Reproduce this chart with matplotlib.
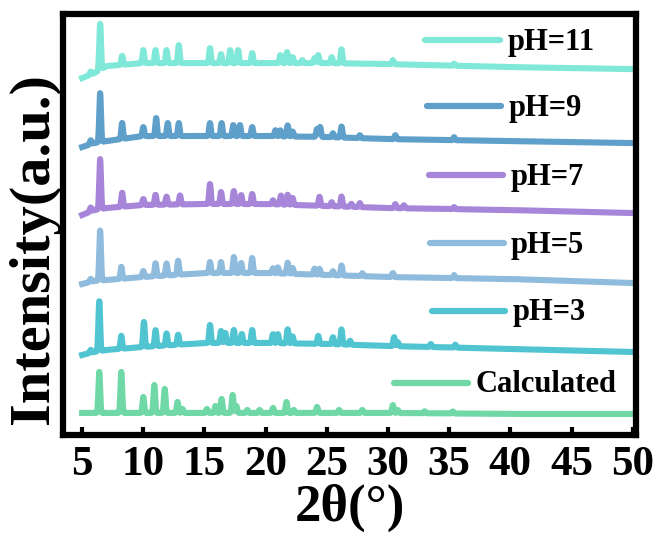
import numpy as np
import matplotlib
matplotlib.use("Agg")
import matplotlib.pyplot as plt

plt.rcParams['font.family'] = ['Liberation Serif', 'DejaVu Serif']
plt.rcParams['font.weight'] = 'bold'

# --- Données (2theta en degrés, hauteurs en unités arbitraires) ---
labels = ["pH=11", "pH=9", "pH=7", "pH=5", "pH=3", "Calculated"]
couleurs = ["#80E8D8", "#5FA0CB", "#A786DA", "#8FBCDD", "#50C5D1", "#6FD8A6"]

# fond continu (points lus) pour chaque diagramme
fond_x = [5, 6, 7, 10, 15, 20, 25, 30, 40, 50]
fond = {
    "pH=11": [357, 362, 369, 372, 372, 372, 372, 371, 368, 366],
    "pH=9": [288, 292, 294, 299, 299, 299, 298, 296, 294, 292],
    "pH=7": [220, 225, 227, 230, 231, 231, 229, 227, 225, 222],
    "pH=5": [151, 154, 155, 158, 162, 162, 160, 158, 156, 152],
    "pH=3": [80, 83, 85, 88, 92, 92, 91, 89, 86, 83],
    "Calculated": [22, 22, 22, 22, 22, 22, 22, 22, 21, 21],
}

# pics : (position, hauteur)
pics = {
    "pH=11": [(5.7, 3), (6.47, 46), (8.27, 9), (10.0, 13), (11.0, 13), (11.9, 13),
              (12.9, 18), (15.45, 15), (16.35, 9), (17.1, 13), (17.75, 13), (18.9, 10),
              (21.2, 8), (21.75, 11), (22.2, 6), (23.0, 3), (24.0, 5), (24.3, 8),
              (25.4, 6), (26.2, 14), (30.4, 4), (35.4, 2)],
    "pH=9": [(5.7, 4), (6.47, 49), (8.27, 16), (10.0, 9), (11.05, 18), (12.0, 13),
             (12.9, 13), (15.45, 13), (16.4, 13), (17.35, 11), (17.9, 11), (18.9, 9),
             (20.8, 6), (21.2, 6), (21.8, 11), (22.2, 5), (24.2, 8), (24.45, 10),
             (25.5, 4), (26.2, 11), (27.7, 3), (30.6, 4), (35.4, 3)],
    "pH=7": [(5.7, 4), (6.47, 50), (8.27, 14), (10.0, 6), (11.0, 10), (11.9, 8),
             (13.0, 9), (15.45, 20), (16.35, 12), (17.4, 13), (18.0, 9), (18.9, 10),
             (20.6, 4), (21.25, 9), (21.8, 10), (22.2, 7), (24.4, 9), (25.4, 4),
             (26.2, 10), (27.0, 3), (27.7, 4), (30.6, 4), (31.3, 3), (35.4, 2)],
    "pH=5": [(5.7, 3), (6.47, 50), (8.2, 12), (10.0, 6), (11.0, 13), (11.9, 12),
             (12.85, 14), (15.45, 11), (16.35, 11), (17.4, 16), (18.0, 10), (18.9, 15),
             (20.6, 5), (21.0, 6), (21.8, 11), (22.2, 6), (24.0, 6), (24.4, 6),
             (25.5, 4), (26.2, 10), (27.9, 3), (30.4, 4), (35.4, 3)],
    "pH=3": [(5.7, 3), (6.4, 50), (8.2, 13), (10.05, 25), (11.0, 16), (11.9, 12),
             (12.85, 10), (15.45, 18), (16.35, 12), (16.7, 10), (17.4, 13), (18.05, 9),
             (18.9, 13), (20.6, 9), (21.0, 9), (21.8, 14), (22.2, 7), (24.3, 8),
             (25.5, 7), (26.2, 15), (26.9, 4), (30.5, 9), (30.8, 4), (33.5, 3), (35.5, 3)],
    "Calculated": [(6.4, 41), (8.2, 41), (10.0, 16), (10.9, 28), (11.75, 24), (12.8, 11),
                   (13.2, 4), (15.2, 4), (15.9, 7), (16.4, 14), (17.3, 18), (17.6, 7),
                   (18.5, 3), (19.5, 3), (20.6, 5), (21.7, 11), (22.3, 3), (24.2, 6),
                   (26.0, 3), (27.9, 3), (30.4, 8), (30.8, 3), (33.0, 2), (35.3, 2)],
}

# position des légendes (fraction des axes) : x début ligne, x fin ligne, y, x texte
legende = {
    "pH=11": (0.632, 0.763, 0.938, 0.777),
    "pH=9": (0.635, 0.764, 0.781, 0.778),
    "pH=7": (0.639, 0.768, 0.618, 0.782),
    "pH=5": (0.640, 0.770, 0.456, 0.782),
    "pH=3": (0.644, 0.771, 0.295, 0.785),
    "Calculated": (0.578, 0.707, 0.124, 0.721),
}

# --- Construction des diagrammes ---
deux_theta = np.arange(5, 50.001, 0.01)
largeur = 0.07

fig = plt.figure(figsize=(6.65, 5.43), dpi=100)
ax = fig.add_axes([0.095, 0.199, 0.861, 0.775])

for nom, couleur in zip(labels, couleurs):
    y = np.interp(deux_theta, fond_x, fond[nom])
    for pos, h in pics[nom]:
        y = y + h * np.exp(-0.5 * ((deux_theta - pos) / largeur) ** 2)
    ax.plot(deux_theta, y, color=couleur, lw=4.4, solid_joinstyle='round')

    x0, x1, yl, xt = legende[nom]
    ax.plot([x0, x1], [yl, yl], transform=ax.transAxes, color=couleur, lw=4.5,
            solid_capstyle='round')
    ax.text(xt, yl - 0.023, nom, transform=ax.transAxes, fontsize=22,
            fontweight='bold', va='baseline', ha='left')

ax.set_xlim(3.45, 50.25)
ax.set_ylim(0, 421)
ax.set_xticks(range(5, 55, 5))
ax.set_yticks([])
ax.tick_params(axis='x', direction='in', length=6, width=3, labelsize=31, pad=8)
for lab in ax.get_xticklabels():
    lab.set_fontweight('bold')
for sp in ax.spines.values():
    sp.set_linewidth(4.5)

ax.set_xlabel("2θ(°)", fontsize=38, fontweight='bold', labelpad=0)
ax.set_ylabel("Intensity(a.u.)", fontsize=42, fontweight='bold')
ax.yaxis.set_label_coords(-0.005, 0.444)

fig.savefig("out.png", dpi=100)
